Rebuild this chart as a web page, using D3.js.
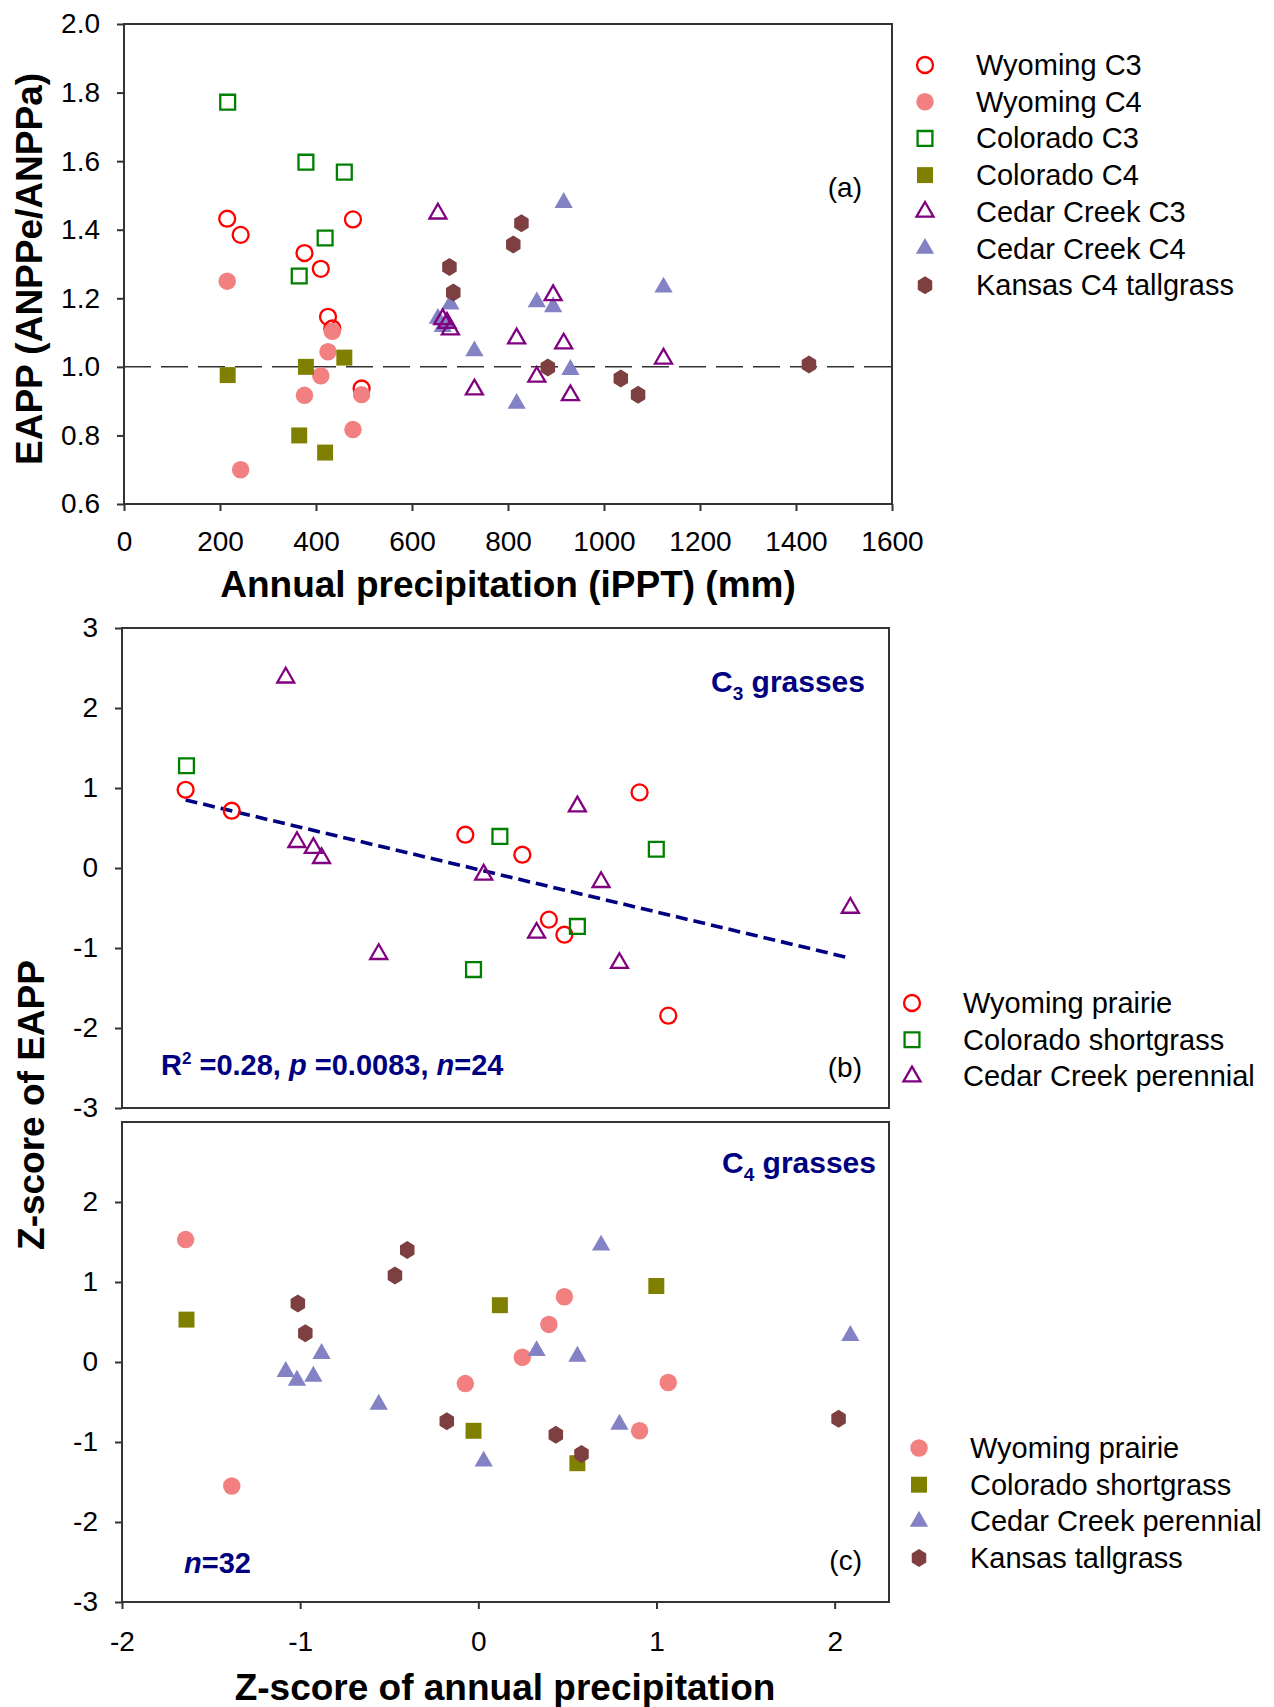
<!DOCTYPE html>
<html>
<head>
<meta charset="utf-8">
<script src="https://cdn.jsdelivr.net/npm/d3@7"></script>
<style>
  body { margin: 0; background: #fff; }
  text { font-family: "Liberation Sans", Arial, sans-serif; }
</style>
</head>
<body>
<div id="chart"></div>
<script>
// ---- panel (a) data: annual precipitation (mm) vs EAPP ----
const wyPPT = [215, 243, 376, 410, 425, 434, 477, 495];
const wyC3 = [1.432, 1.385, 1.332, 1.286, 1.146, 1.112, 1.430, 0.937];
const wyC4 = [1.25, 0.70, 0.917, 0.974, 1.044, 1.104, 0.817, 0.919];

const coPPT = [216, 365, 379, 419, 459];
const coC3 = [1.772, 1.265, 1.597, 1.376, 1.568];
const coC4 = [0.976, 0.80, 1.0, 0.75, 1.027];

const ccPPT = [654, 664, 673, 680, 730, 818, 860, 894, 916, 930, 1124];
const ccC3 = [1.447, 1.139, 1.128, 1.109, 0.934, 1.083, 0.971, 1.209, 1.068, 0.917, 1.024];
const ccC4 = [1.141, 1.117, 1.127, 1.183, 1.046, 0.893, 1.189, 1.175, 1.479, 0.992, 1.232];

const ksPPT = [678, 686, 811, 828, 883, 1035, 1071, 1427];
const ksC4 = [1.291, 1.217, 1.357, 1.419, 0.998, 0.966, 0.919, 1.007];

// ---- panels (b) and (c): z-scores ----
const wyZx = [-1.643, -1.384, -0.073, 0.247, 0.396, 0.483, 0.905, 1.066];
const wyZc3 = [0.978, 0.716, 0.416, 0.166, -0.645, -0.834, 0.945, -1.846];
const wyZc4 = [1.53, -1.55, -0.27, 0.06, 0.47, 0.815, -0.86, -0.256];

const coZx = [-1.638, -0.027, 0.121, 0.556, 0.999];
const coZc3 = [1.278, -1.27, 0.395, -0.73, 0.234];
const coZc4 = [0.53, -0.86, 0.71, -1.265, 0.95];

const ccZx = [-1.081, -1.018, -0.926, -0.88, -0.559, 0.03, 0.327, 0.556, 0.689, 0.792, 2.088];
const ccZc3 = [2.38, 0.324, 0.25, 0.124, -1.076, -0.084, -0.81, 0.77, -0.176, -1.188, -0.498];
const ccZc4 = [-0.12, -0.23, -0.18, 0.105, -0.53, -1.24, 0.14, 0.07, 1.46, -0.78, 0.33];

const ksZx = [-1.013, -0.971, -0.468, -0.399, -0.177, 0.435, 0.579, 2.022];
const ksZc4 = [0.73, 0.36, 1.08, 1.40, -0.74, -0.91, -1.15, -0.71];

// C3 regression (z-scores)
const regSlope = -0.53, regIntercept = -0.02;

// tick values
const pptTicks = [0, 200, 400, 600, 800, 1000, 1200, 1400, 1600];
const eappTicks = [0.6, 0.8, 1.0, 1.2, 1.4, 1.6, 1.8, 2.0];
const zTicksB = [-3, -2, -1, 0, 1, 2, 3];
const zTicksC = [-3, -2, -1, 0, 1, 2];
const zxTicks = [-2, -1, 0, 1, 2];

// legends
const legendA = ["Wyoming C3", "Wyoming C4", "Colorado C3", "Colorado C4", "Cedar Creek C3", "Cedar Creek C4", "Kansas C4 tallgrass"];
const legendB = ["Wyoming prairie", "Colorado shortgrass", "Cedar Creek perennial"];
const legendC = ["Wyoming prairie", "Colorado shortgrass", "Cedar Creek perennial", "Kansas tallgrass"];

// styles
const st = {
  wy3: {shape: "circle", open: true, color: "#ff0000"},
  wy4: {shape: "circle", open: false, color: "#f38080"},
  co3: {shape: "square", open: true, color: "#008000"},
  co4: {shape: "square", open: false, color: "#808000"},
  cc3: {shape: "triangle", open: true, color: "#800080"},
  cc4: {shape: "triangle", open: false, color: "#8282c4"},
  ks4: {shape: "hexagon", open: false, color: "#7d3f3f"}
};
const navy = "#000080";
const axisColor = "#333";

const width = 1274, height = 1707;
const svg = d3.select("#chart").append("svg")
  .attr("width", width).attr("height", height);

function markerPath(shape, open) {
  if (shape === "circle") return d3.symbol(d3.symbolCircle, open ? 200 : 240)();
  if (shape === "square") return d3.symbol(d3.symbolSquare, open ? 220 : 255)();
  if (shape === "triangle") return d3.symbol(d3.symbolTriangle, open ? 125 : 145)();
  // hexagon, pointy top
  const r = 9;
  const pts = d3.range(6).map(i => {
    const a = (-90 + i * 60) * Math.PI / 180;
    return [r * 0.93 * Math.cos(a), r * Math.sin(a)];
  });
  return "M" + pts.map(p => p.join(",")).join("L") + "Z";
}

function drawMarkers(g, xs, ys, xScale, yScale, s) {
  g.selectAll(null)
    .data(xs.map((x, i) => [x, ys[i]]))
    .enter().append("path")
    .attr("d", markerPath(s.shape, s.open))
    .attr("transform", d => `translate(${xScale(d[0])},${yScale(d[1])})`)
    .attr("fill", s.open ? "none" : s.color)
    .attr("stroke", s.open ? s.color : "none")
    .attr("stroke-width", s.open ? 2.3 : 0);
}

function drawLegend(x, y0, labels, styles) {
  labels.forEach((lab, i) => {
    const y = y0 + i * 36.7;
    const s = styles[i];
    svg.append("path")
      .attr("d", markerPath(s.shape, s.open))
      .attr("transform", `translate(${x},${y})`)
      .attr("fill", s.open ? "none" : s.color)
      .attr("stroke", s.open ? s.color : "none")
      .attr("stroke-width", s.open ? 2.3 : 0);
    svg.append("text")
      .attr("x", x + 51).attr("y", y + 10)
      .style("font-size", "29px")
      .text(lab);
  });
}

function frame(x0, x1, y0, y1) {
  svg.append("rect")
    .attr("x", x0).attr("y", y0)
    .attr("width", x1 - x0).attr("height", y1 - y0)
    .attr("fill", "none").attr("stroke", axisColor).attr("stroke-width", 2);
}

function styleAxis(g) {
  g.select(".domain").remove();
  g.selectAll("line").attr("stroke", axisColor).attr("stroke-width", 2);
  g.selectAll("text").style("font-size", "28px").attr("fill", "#000")
    .style("font-family", '"Liberation Sans", Arial, sans-serif');
}

// plain hyphen minus like the original
const intFmt = d => String(d);

// ================= Panel (a) =================
const xA = d3.scaleLinear().domain([0, 1600]).range([124, 892]);
const yA = d3.scaleLinear().domain([0.6, 2.0]).range([504, 24]);

frame(124, 892, 24, 504);

svg.append("g").attr("transform", "translate(0,504)")
  .call(d3.axisBottom(xA).tickValues(pptTicks).tickFormat(intFmt).tickSize(7).tickPadding(20))
  .call(styleAxis);
svg.append("g").attr("transform", "translate(124,0)")
  .call(d3.axisLeft(yA).tickValues(eappTicks).tickFormat(d => d.toFixed(1)).tickSize(7).tickPadding(17))
  .call(styleAxis);

// reference line at 1.0
svg.append("line")
  .attr("x1", xA(0)).attr("x2", xA(1600))
  .attr("y1", yA(1.0)).attr("y2", yA(1.0))
  .attr("stroke", "#333").attr("stroke-width", 1.5)
  .attr("stroke-dasharray", "27,10");

const gA = svg.append("g");
drawMarkers(gA, wyPPT, wyC3, xA, yA, st.wy3);
drawMarkers(gA, wyPPT, wyC4, xA, yA, st.wy4);
drawMarkers(gA, coPPT, coC3, xA, yA, st.co3);
drawMarkers(gA, coPPT, coC4, xA, yA, st.co4);
drawMarkers(gA, ccPPT, ccC4, xA, yA, st.cc4);
drawMarkers(gA, ccPPT, ccC3, xA, yA, st.cc3);
drawMarkers(gA, ksPPT, ksC4, xA, yA, st.ks4);

svg.append("text").attr("x", 862).attr("y", 197)
  .attr("text-anchor", "end").style("font-size", "28px").text("(a)");

svg.append("text").attr("x", 508).attr("y", 597)
  .attr("text-anchor", "middle").style("font-size", "37px").style("font-weight", "bold")
  .text("Annual precipitation (iPPT) (mm)");

svg.append("text")
  .attr("transform", "translate(42,269) rotate(-90)")
  .attr("text-anchor", "middle").style("font-size", "37px").style("font-weight", "bold")
  .text("EAPP (ANPPe/ANPPa)");

drawLegend(925, 65, legendA, [st.wy3, st.wy4, st.co3, st.co4, st.cc3, st.cc4, st.ks4]);

// ================= Panel (b) =================
const xZ = d3.scaleLinear().domain([-2, 2.305]).range([122, 889]);
const yB = d3.scaleLinear().domain([-3, 3]).range([1108, 628]);

frame(122, 889, 628, 1108);
svg.append("g").attr("transform", "translate(122,0)")
  .call(d3.axisLeft(yB).tickValues(zTicksB).tickFormat(intFmt).tickSize(7).tickPadding(17))
  .call(styleAxis);

// regression line
const regX = d3.extent(wyZx.concat(coZx, ccZx));
svg.append("line")
  .attr("x1", xZ(regX[0])).attr("y1", yB(regSlope * regX[0] + regIntercept))
  .attr("x2", xZ(regX[1])).attr("y2", yB(regSlope * regX[1] + regIntercept))
  .attr("stroke", navy).attr("stroke-width", 3.6)
  .attr("stroke-dasharray", "12,6");

const gB = svg.append("g");
drawMarkers(gB, wyZx, wyZc3, xZ, yB, st.wy3);
drawMarkers(gB, coZx, coZc3, xZ, yB, st.co3);
drawMarkers(gB, ccZx, ccZc3, xZ, yB, st.cc3);

const c3 = svg.append("text").attr("x", 865).attr("y", 692)
  .attr("text-anchor", "end").attr("fill", navy)
  .style("font-size", "30px").style("font-weight", "bold");
c3.append("tspan").text("C");
c3.append("tspan").attr("dy", 8).style("font-size", "19px").text("3");
c3.append("tspan").attr("dy", -8).text(" grasses");

const stat = svg.append("text").attr("x", 161).attr("y", 1075)
  .attr("fill", navy).style("font-size", "29px").style("font-weight", "bold");
stat.append("tspan").text("R");
stat.append("tspan").attr("dy", -11).style("font-size", "17px").text("2");
stat.append("tspan").attr("dy", 11).text(" =0.28, ");
stat.append("tspan").style("font-style", "italic").text("p");
stat.append("tspan").text(" =0.0083, ");
stat.append("tspan").style("font-style", "italic").text("n");
stat.append("tspan").text("=24");

svg.append("text").attr("x", 862).attr("y", 1077)
  .attr("text-anchor", "end").style("font-size", "28px").text("(b)");

drawLegend(912, 1003, legendB, [st.wy3, st.co3, st.cc3]);

// ================= Panel (c) =================
const yC = d3.scaleLinear().domain([-3, 3]).range([1602, 1122]);

frame(122, 889, 1122, 1602);
svg.append("g").attr("transform", "translate(122,0)")
  .call(d3.axisLeft(yC).tickValues(zTicksC).tickFormat(intFmt).tickSize(7).tickPadding(17))
  .call(styleAxis);
svg.append("g").attr("transform", "translate(0,1602)")
  .call(d3.axisBottom(xZ).tickValues(zxTicks).tickFormat(intFmt).tickSize(7).tickPadding(22))
  .call(styleAxis);

const gC = svg.append("g");
drawMarkers(gC, wyZx, wyZc4, xZ, yC, st.wy4);
drawMarkers(gC, coZx, coZc4, xZ, yC, st.co4);
drawMarkers(gC, ccZx, ccZc4, xZ, yC, st.cc4);
drawMarkers(gC, ksZx, ksZc4, xZ, yC, st.ks4);

const c4 = svg.append("text").attr("x", 876).attr("y", 1173)
  .attr("text-anchor", "end").attr("fill", navy)
  .style("font-size", "30px").style("font-weight", "bold");
c4.append("tspan").text("C");
c4.append("tspan").attr("dy", 8).style("font-size", "19px").text("4");
c4.append("tspan").attr("dy", -8).text(" grasses");

const nC = svg.append("text").attr("x", 184).attr("y", 1573)
  .attr("fill", navy).style("font-size", "29px").style("font-weight", "bold");
nC.append("tspan").style("font-style", "italic").text("n");
nC.append("tspan").text("=32");

svg.append("text").attr("x", 862).attr("y", 1570)
  .attr("text-anchor", "end").style("font-size", "28px").text("(c)");

drawLegend(919, 1448, legendC, [st.wy4, st.co4, st.cc4, st.ks4]);

// shared axis titles
svg.append("text").attr("x", 505).attr("y", 1700)
  .attr("text-anchor", "middle").style("font-size", "37px").style("font-weight", "bold")
  .text("Z-score of annual precipitation");

svg.append("text")
  .attr("transform", "translate(44,1105) rotate(-90)")
  .attr("text-anchor", "middle").style("font-size", "37px").style("font-weight", "bold")
  .text("Z-score of EAPP");
</script>
</body>
</html>
